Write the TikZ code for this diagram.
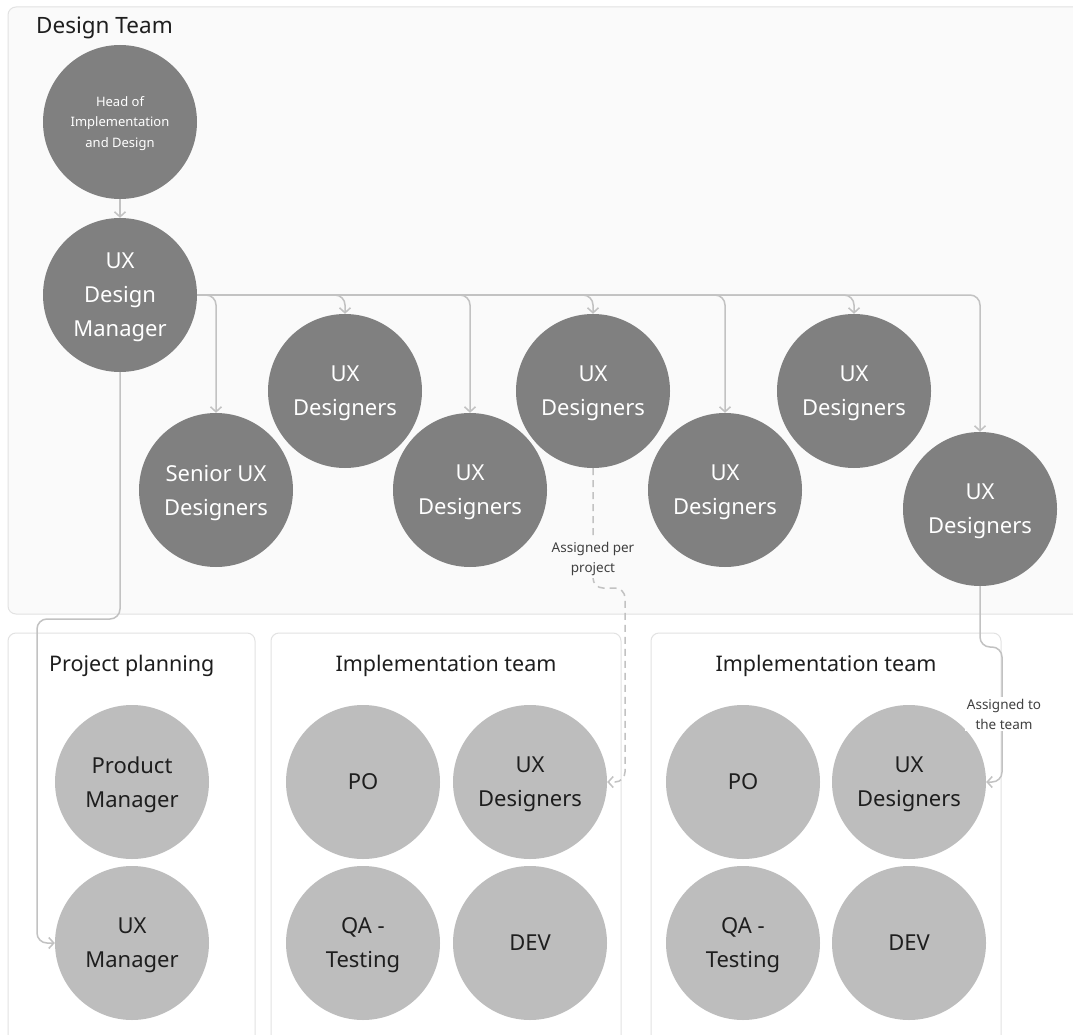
\documentclass[tikz,border=0pt]{standalone}
\usepackage{fontspec}
\setmainfont{Noto Sans}
\usetikzlibrary{arrows.meta}
\definecolor{dark}{HTML}{808080}
\definecolor{light}{HTML}{BDBDBD}
\definecolor{wire}{HTML}{C2C2C2}
\definecolor{frame}{HTML}{E2E2E2}
\definecolor{panel}{HTML}{FAFAFA}
\definecolor{ink}{HTML}{1E1E1E}
\begin{document}
\begin{tikzpicture}[x=1pt,y=-1pt,
  role/.style={circle, minimum size=154pt, inner sep=0pt, align=center,
    text depth=0pt, font=\fontsize{22}{34}\selectfont},
  senior/.style={role, fill=dark, text=white},
  member/.style={role, fill=light, text=ink},
  group/.style={draw=frame, line width=1pt, rounded corners=8pt},
  title/.style={font=\fontsize{21.5}{26}\selectfont, text=ink, inner sep=0pt},
  conn/.style={draw=wire, line width=1.5pt, rounded corners=10pt,
    -{Straight Barb[length=5pt,width=11pt]}},
  note/.style={font=\fontsize{13.5}{20}\selectfont, text=ink!85, align=center, inner sep=2pt}
]
\useasboundingbox (0,0) rectangle (1073,1035);
\clip (0,0) rectangle (1073,1035);
\fill[white] (0,0) rectangle (1073,1035);

% team frames
\draw[group, fill=panel] (8,7) rectangle (1090,614);
\draw[group, fill=white] (8,633) rectangle (255,1060);
\draw[group, fill=white] (271,633) rectangle (621,1060);
\draw[group, fill=white] (651,633) rectangle (1001,1060);

\node[title, font=\fontsize{22.5}{27}\selectfont, anchor=base west] (tDesign) at (36,34) {Design Team};
\node[title, anchor=base west] (tPlan) at (49,671) {Project planning};
\node[title, anchor=base] (tImpA) at (446,671) {Implementation team};
\node[title, anchor=base] (tImpB) at (826,671) {Implementation team};

% design team
\node[senior, font=\fontsize{13}{20.5}\selectfont] (head) at (120,122) {Head of\\Implementation\\and Design};
\node[senior] (mgr) at (120,295) {UX\\Design\\Manager};
\node[senior] (sen) at (216,490) {Senior UX\\Designers};
\node[senior] (d1) at (345,391) {UX\\Designers};
\node[senior] (d2) at (470,490) {UX\\Designers};
\node[senior] (d3) at (593,391) {UX\\Designers};
\node[senior] (d4) at (725,490) {UX\\Designers};
\node[senior] (d5) at (854,391) {UX\\Designers};
\node[senior] (d6) at (980,509) {UX\\Designers};

% project planning
\node[member] (pm) at (132,782) {Product\\Manager};
\node[member] (uxm) at (132,943) {UX\\Manager};

% implementation team A
\node[member] (poA) at (363,782) {PO};
\node[member] (uxA) at (530,782) {UX\\Designers};
\node[member] (qaA) at (363,943) {QA -\\Testing};
\node[member] (devA) at (530,943) {DEV};

% implementation team B
\node[member] (poB) at (743,782) {PO};
\node[member] (uxB) at (909,782) {UX\\Designers};
\node[member] (qaB) at (743,943) {QA -\\Testing};
\node[member] (devB) at (909,943) {DEV};

% reporting lines
\draw[conn] (head.south) -- (mgr.north);
\foreach \t in {sen,d1,d2,d3,d4,d5,d6}
  \draw[conn] (mgr.east) -| (\t.north);
\draw[conn] (mgr.south) -- (120,619) -- (37,619) -- (37,943) -- (uxm.west);

% assignments
\draw[conn, dash pattern=on 7pt off 5pt] (d3.south) -- (593,588) -- (625,588) -- (625,782) -- (uxA.east);
\node[note, fill=panel] (lblA) at (593,559) {Assigned per\\project};
\draw[conn] (d6.south) -- (980,647) -- (1002,647) -- (1002,782) -- (uxB.east);
\node[note, fill=white] (lblB) at (1004,714) {Assigned to\\the team};
\end{tikzpicture}
\end{document}
